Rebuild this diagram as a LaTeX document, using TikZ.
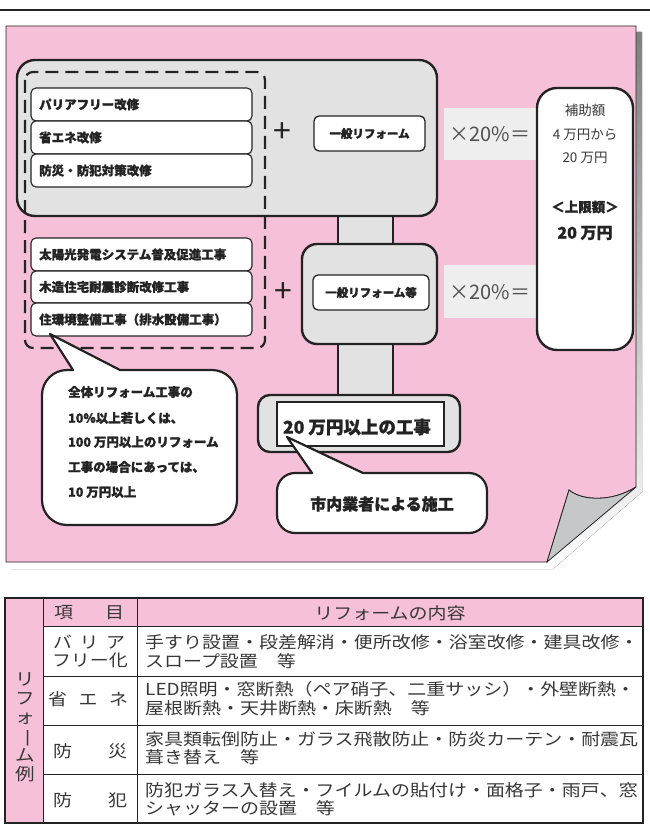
\documentclass[tikz,border=0pt]{standalone}
\usepackage{fontspec}
\usepackage{graphicx}
\setmainfont{Noto Sans CJK JP}[BoldFeatures={FakeBold=1.2}]
\newfontfamily\tabfont{Noto Sans CJK JP}[FakeStretch=1.15]
\definecolor{pinkbg}{RGB}{247,192,217}
\definecolor{shade}{RGB}{192,193,195}
\definecolor{flap}{RGB}{198,199,201}
\definecolor{boxgray}{RGB}{226,226,226}
\definecolor{rategray}{RGB}{237,238,237}
\definecolor{ink}{RGB}{35,35,35}
\definecolor{txt}{RGB}{55,55,55}
\definecolor{ratecol}{RGB}{80,80,80}
\tikzset{
  heavy/.style={font=\fontsize{12.5}{14}\selectfont\bfseries, text=ink, inner sep=0pt},
  bigbox/.style={draw=ink, line width=2.4pt, fill=boxgray},
  itembox/.style={draw=ink, line width=1.1pt, fill=white, rounded corners=5pt},
  innerbox/.style={draw=ink, line width=1.3pt, fill=white, rounded corners=5pt},
  ratebox/.style={fill=rategray},
  ratetext/.style={font=\fontsize{20}{22}\selectfont, text=ratecol, inner sep=0pt},
  plustext/.style={font=\fontsize{32}{34}\selectfont, text=ink, inner sep=0pt},
  bubble/.style={draw=ink, line width=2.2pt, fill=white, line join=round},
  tabline/.style={draw=ink, line width=0.9pt},
  tabtext/.style={font=\tabfont\fontsize{16.5}{18}\selectfont, text=txt, inner sep=0pt},
  boxtext/.style={font=\fontsize{13.5}{15}\selectfont, text=txt, inner sep=0pt},
}
\begin{document}
\begin{tikzpicture}[x=1pt,y=-1pt]
\useasboundingbox (0,0) rectangle (650,832);
\fill[white] (0,0) rectangle (650,832);
% top rule
\draw[ink, line width=2.5pt] (0,10) -- (650,10);
% panel shadow, panel, curled corner
\fill[shade] (11,32) -- (642,32) -- (642,492) -- (553,569) -- (11,569) -- cycle;
\draw[fill=pinkbg, draw=ink, line width=0.8pt] (6,26) -- (636,26) -- (636,487) .. controls (612,502) and (582,501) .. (569,490) -- (547,562) -- (6,562) -- cycle;
\draw[fill=flap, draw=ink, line width=0.8pt] (636,487) .. controls (612,502) and (582,501) .. (569,490) -- (547,562) -- cycle;

% connecting columns
\draw[bigbox] (338,205) rectangle (393,255);
\draw[bigbox] (338,335) rectangle (393,405);
% boxes
\draw[bigbox, rounded corners=18pt] (17,60) rectangle (437,216);
\draw[bigbox, rounded corners=15pt] (302,244) rectangle (437,344);
\draw[bigbox, rounded corners=12pt] (258,395) rectangle (460,452);
\draw[draw=ink, line width=1.3pt, fill=white] (277,402) rectangle (444,446);
\node[font=\fontsize{17.5}{19}\selectfont\bfseries, text=ink, inner sep=0pt] (big20) at (357,427) {20 万円以上の工事};

% dashed group
\draw[ink, line width=2.2pt, dash pattern=on 13pt off 7pt, rounded corners=8pt] (25,72) rectangle (265,348);

% item boxes
\draw[itembox] (31,88) rectangle (252,121);
\draw[itembox] (31,121) rectangle (252,154);
\draw[itembox] (31,154) rectangle (252,187);
\node[heavy, anchor=west] (i1) at (39,104.5) {パリアフリー改修};
\node[heavy, anchor=west] (i2) at (39,137.5) {省エネ改修};
\node[heavy, anchor=west] (i3) at (39,170.5) {防災・防犯対策改修};
\draw[itembox] (31,238) rectangle (252,271);
\draw[itembox] (31,271) rectangle (252,303);
\draw[itembox] (31,303) rectangle (252,336);
\node[heavy, anchor=west] (j1) at (39,254.5) {太陽光発電システム普及促進工事};
\node[heavy, anchor=west] (j2) at (39,287) {木造住宅耐震診断改修工事};
\node[heavy, anchor=west] (j3) at (39,319.5) {住環境整備工事（排水設備工事）};

% plus signs
\node[plustext] (p1) at (282,133) {+};
\node[plustext] (p2) at (283,293) {+};

% general reform boxes
\draw[innerbox] (314,116) rectangle (425,151);
\node[heavy, font=\fontsize{11.5}{13}\selectfont\bfseries] (g1) at (369.5,133.5) {一般リフォーム};
\draw[innerbox] (313,275) rectangle (429,310);
\node[heavy, font=\fontsize{11.5}{13}\selectfont\bfseries] (g2) at (371,292.5) {一般リフォーム等};

% rate boxes
\fill[ratebox] (444,108) rectangle (537,160);
\fill[ratebox] (444,265) rectangle (537,318);
\node[ratetext] (r1) at (490,134) {×20\%＝};
\node[ratetext] (r2) at (490,292) {×20\%＝};

% subsidy box
\draw[bigbox, fill=white, rounded corners=20pt] (537,88) rectangle (633,350);
\node[boxtext] (s1) at (585,110) {補助額};
\node[boxtext] (s2) at (585,135) {4 万円から};
\node[boxtext] (s3) at (585,158) {20 万円};
\node[boxtext, font=\fontsize{13.5}{15}\selectfont\bfseries, text=ink] (s4) at (585,207) {＜上限額＞};
\node[boxtext, font=\fontsize{16}{18}\selectfont\bfseries, text=ink] (s5) at (585,233) {20 万円};

% callout 1
\draw[bubble] (73,370) -- (50,334) -- (120,370) -- (212,370) arc[start angle=-90,end angle=0,radius=25] -- (237,500) arc[start angle=0,end angle=90,radius=25] -- (67,525) arc[start angle=90,end angle=180,radius=25] -- (42,395) arc[start angle=180,end angle=270,radius=25] -- cycle;
\node[heavy, anchor=west] (c1) at (68,392) {全体リフォーム工事の};
\node[heavy, anchor=west] (c2) at (68,418) {10\%以上若しくは、};
\node[heavy, anchor=west] (c3) at (68,442) {100 万円以上のリフォーム};
\node[heavy, anchor=west] (c4) at (68,467) {工事の場合にあっては、};
\node[heavy, anchor=west] (c5) at (68,492) {10 万円以上};

% callout 2
\draw[bubble] (312,473) -- (287,437) -- (363,473) -- (469,473) arc[start angle=-90,end angle=0,radius=18] -- (487,515) arc[start angle=0,end angle=90,radius=18] -- (295,533) arc[start angle=90,end angle=180,radius=18] -- (277,491) arc[start angle=180,end angle=270,radius=18] -- cycle;
\node[font=\fontsize{16}{18}\selectfont\bfseries, text=ink, inner sep=0pt] (d1) at (382,504) {市内業者による施工};

% ===== table =====
\fill[pinkbg] (5,598) rectangle (643,626);
\fill[pinkbg] (5,626) rectangle (43,823);
\draw[tabline] (43,626) -- (643,626);
\draw[tabline] (43,676) -- (643,676);
\draw[tabline] (43,725) -- (643,725);
\draw[tabline] (43,774) -- (643,774);
\draw[tabline] (43,598) -- (43,823);
\draw[tabline] (137,598) -- (137,823);
\draw[ink, line width=2.6pt] (5,598) rectangle (643,823);

\node[tabtext] (h1) at (89,613) {\hbox to 70pt{項\hfil 目}};
\node[tabtext] (h2) at (390,613) {リフォームの内容};

\node[tabtext, font=\tabfont\fontsize{17}{19}\selectfont, align=center] (vcol) at (25,727) {リ\\フ\\ォ\\\raisebox{14pt}{\rotatebox{-90}{ー}}\\ム\\例};

\node[tabtext] (k1a) at (89,642) {\hbox to 72pt{バ\hfil リ\hfil ア}};
\node[tabtext] (k1b) at (90,660) {\hbox to 76pt{フリー化}};
\node[tabtext] (k2) at (88,699) {\hbox to 80pt{省\hfil エ\hfil ネ}};
\node[tabtext] (k3) at (90,751) {\hbox to 74pt{防\hfil 災}};
\node[tabtext] (k4) at (90,800) {\hbox to 74pt{防\hfil 犯}};

\node[tabtext, anchor=west] (t1a) at (145,642) {手すり設置・段差解消・便所改修・浴室改修・建具改修・};
\node[tabtext, anchor=west] (t1b) at (145,661) {スロープ設置　等};
\node[tabtext, anchor=west] (t2a) at (145,689) {LED照明・窓断熱（ペア硝子、二重サッシ）・外壁断熱・};
\node[tabtext, anchor=west] (t2b) at (145,708) {屋根断熱・天井断熱・床断熱　等};
\node[tabtext, anchor=west] (t3a) at (145,739) {家具類転倒防止・ガラス飛散防止・防炎カーテン・耐震瓦};
\node[tabtext, anchor=west] (t3b) at (145,757) {葺き替え　等};
\node[tabtext, anchor=west] (t4a) at (145,790) {防犯ガラス入替え・フイルムの貼付け・面格子・雨戸、窓};
\node[tabtext, anchor=west] (t4b) at (145,808) {シャッターの設置　等};
\end{tikzpicture}
\end{document}
